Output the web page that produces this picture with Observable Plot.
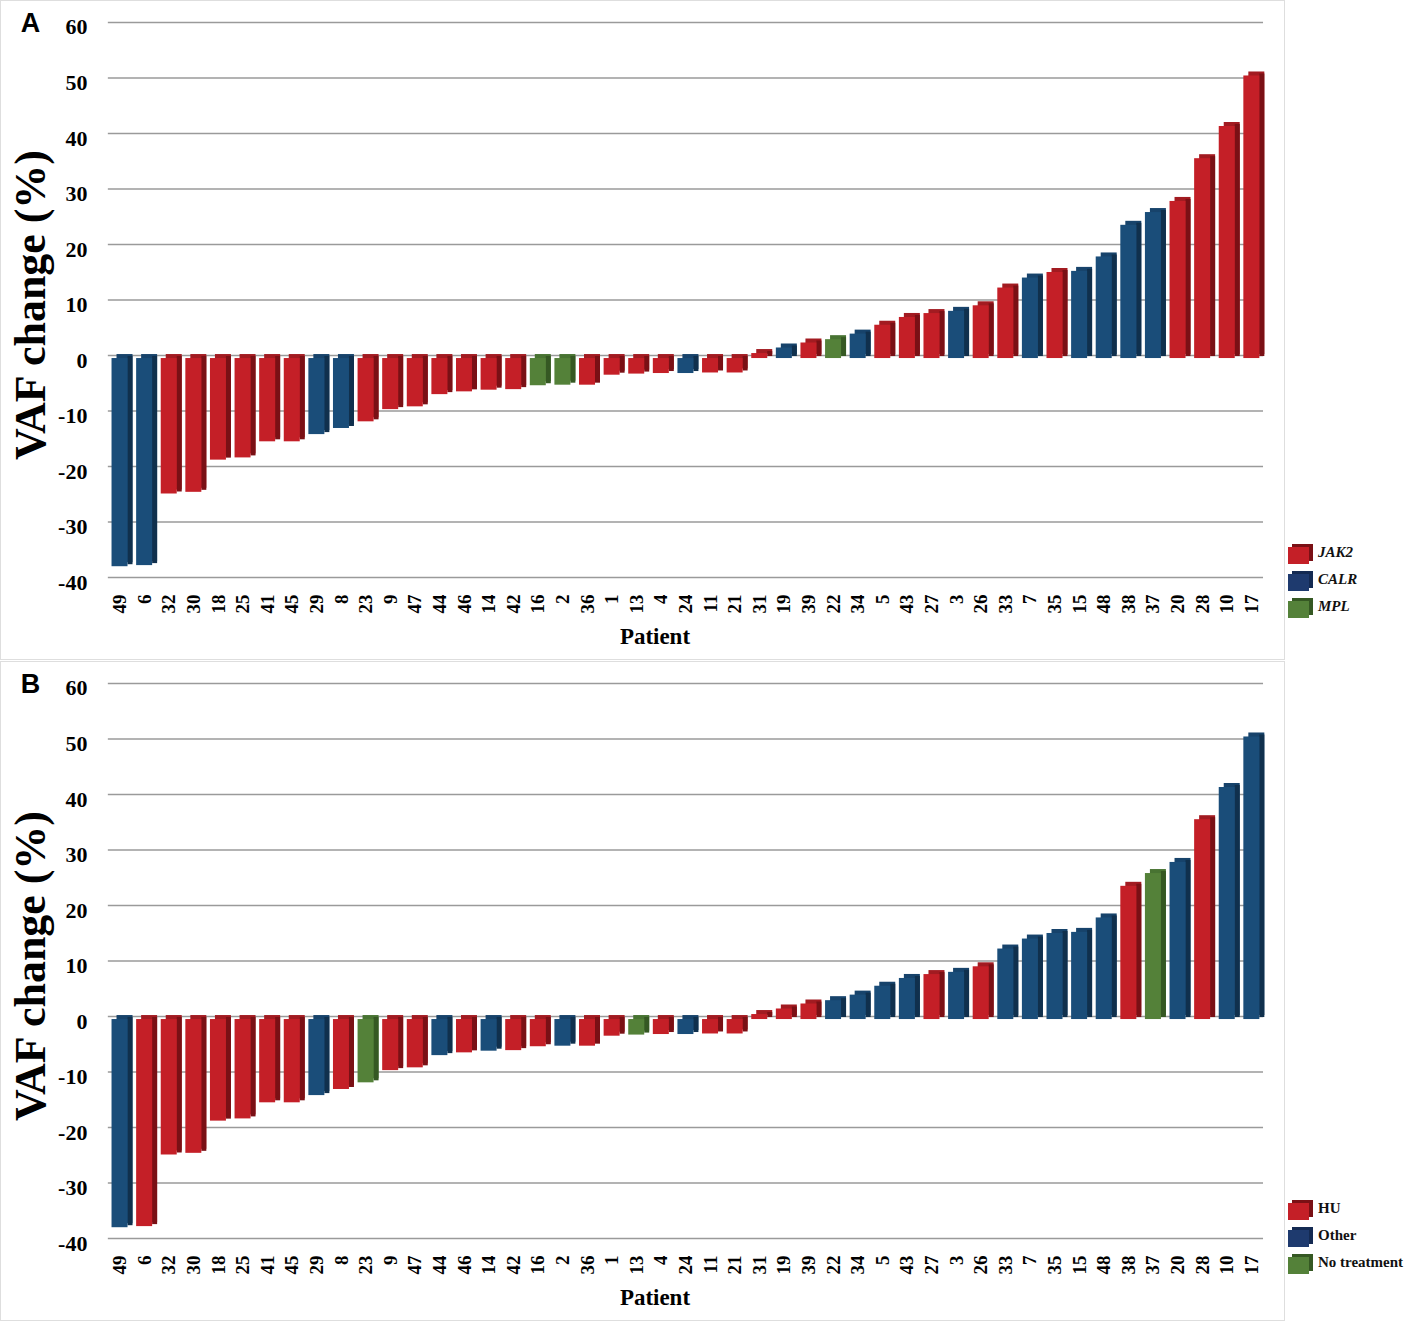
<!DOCTYPE html>
<html>
<head>
<meta charset="utf-8">
<script src="https://cdn.jsdelivr.net/npm/d3@7"></script>
<script src="https://cdn.jsdelivr.net/npm/@observablehq/plot@0.6"></script>
<style>
  html, body { margin: 0; padding: 0; background: #fff; }
  #wrap { position: relative; width: 1417px; height: 1323px; overflow: hidden; }
  .panel { position: absolute; left: 0; width: 1285px; border: 1px solid #dedede; box-sizing: border-box; }
  .panel svg { position: absolute; left: -1px; top: -1px; }
  .legend { position: absolute; left: 1287px; font-family: 'Liberation Serif', 'Times New Roman', serif; font-weight: bold; font-size: 15px; color: #111; }
  .legend .row { position: relative; height: 27px; }
  .legend .sw { position: absolute; left: 1px; top: 7px; width: 21px; height: 17px; }
  .legend .lab { position: absolute; left: 31px; top: 4px; white-space: nowrap; }
  .legend.italic .lab { font-style: italic; }
</style>
</head>
<body>
<div id="wrap">
  <div class="panel" id="pA" style="top:0;height:660px"></div>
  <div class="panel" id="pB" style="top:661px;height:660px"></div>
  <div class="legend italic" id="legA" style="top:540px"></div>
  <div class="legend" id="legB" style="top:1196px"></div>
</div>
<script>
// ---------------- data ----------------
const patients = ["49","6","32","30","18","25","41","45","29","8","23","9","47","44","46","14","42","16","2","36","1","13","4","24","11","21","31","19","39","22","34","5","43","27","3","26","33","7","35","15","48","38","37","20","28","10","17"];
const vafChange = [-37.5,-37.3,-24.4,-24.1,-18.3,-17.9,-15.0,-15.0,-13.7,-12.6,-11.4,-9.2,-8.7,-6.5,-6.0,-5.7,-5.6,-4.9,-4.8,-4.8,-3.0,-2.8,-2.7,-2.7,-2.6,-2.6,0.9,1.9,2.8,3.4,4.4,6.0,7.4,8.1,8.5,9.5,12.7,14.5,15.5,15.7,18.3,24.0,26.3,28.3,36.0,41.8,50.9];
const mutation = ["CALR","CALR","JAK2","JAK2","JAK2","JAK2","JAK2","JAK2","CALR","CALR","JAK2","JAK2","JAK2","JAK2","JAK2","JAK2","JAK2","MPL","MPL","JAK2","JAK2","JAK2","JAK2","CALR","JAK2","JAK2","JAK2","CALR","JAK2","MPL","CALR","JAK2","JAK2","JAK2","CALR","JAK2","JAK2","CALR","JAK2","CALR","CALR","CALR","CALR","JAK2","JAK2","JAK2","JAK2"];
const treatment = ["Other","HU","HU","HU","HU","HU","HU","HU","Other","HU","No treatment","HU","HU","Other","HU","Other","HU","HU","Other","HU","HU","No treatment","HU","Other","HU","HU","HU","HU","HU","Other","Other","Other","Other","HU","Other","HU","Other","Other","Other","Other","Other","HU","No treatment","Other","HU","Other","Other"];
const mutationKeys = ["JAK2","CALR","MPL"];
const treatmentKeys = ["HU","Other","No treatment"];
const yTicks = [-40,-30,-20,-10,0,10,20,30,40,50,60];

// ---------------- style ----------------
const palette = [
  {front:"#c41f27", top:"#a21b21", side:"#7a1015"},
  {front:"#1a4d79", top:"#17436b", side:"#10304d"},
  {front:"#548139", top:"#487332", side:"#355823"}
];
const legendPalette = [
  {front:"#c41f27", side:"#7a1015"},
  {front:"#1e3a6e", side:"#142a52"},
  {front:"#548139", side:"#355823"}
];
const W = 1285, H = 659;
const mL = 108, mR = 20, mT = 22, mB = 81;
const padInner = 0.35, padOuter = 0.15;
const step = (W - mL - mR) / (patients.length - padInner + 2 * padOuter);
const bw = step * (1 - padInner);
const depthX = 5;
const serif = "'Liberation Serif','Times New Roman',serif";

function panel(groups, keys, letter) {
  const data = patients.map((p, i) => ({patient: p, value: vafChange[i], key: groups[i]}));
  const idx = Object.fromEntries(keys.map((k, i) => [k, i]));
  const col = (part) => (d) => palette[idx[d.key]][part];
  return Plot.plot({
    width: W, height: H,
    marginLeft: mL, marginRight: mR, marginTop: mT, marginBottom: mB,
    style: {fontFamily: serif, fontWeight: "bold", background: "transparent", color: "#000", overflow: "visible"},
    x: {type: "band", domain: patients, paddingInner: padInner, paddingOuter: padOuter, align: 0.5},
    y: {domain: [-40, 60]},
    color: {type: "identity"},
    marks: [
      Plot.ruleY(yTicks, {stroke: "#9a9a9a", strokeWidth: 1.5}),
      Plot.barY(data, {x: "patient", y1: 0, y2: "value", fill: col("top"), dx: depthX, dy: -1}),
      Plot.barY(data, {x: "patient", y1: 0, y2: "value", fill: col("side"), dx: depthX, dy: 1, insetLeft: bw - depthX}),
      Plot.barY(data, {x: "patient", y1: 0, y2: "value", fill: col("front"), dy: 3}),
      Plot.axisY({ticks: yTicks, tickFormat: d => String(d), tickSize: 0, tickPadding: 21, dy: 5, fontSize: 22, label: null}),
      Plot.axisX({tickRotate: -90, tickSize: 0, tickPadding: 17, fontSize: 19, label: null}),
      Plot.text(["VAF change (%)"], {text: d => d, frameAnchor: "left", textAnchor: "middle", lineAnchor: "middle", rotate: -90, dx: -78, dy: 5, fontSize: 44}),
      Plot.text(["Patient"], {text: d => d, frameAnchor: "bottom", textAnchor: "middle", lineAnchor: "middle", dx: -31, dy: 59, fontSize: 23}),
      Plot.text([letter], {text: d => d, frameAnchor: "top-left", textAnchor: "middle", lineAnchor: "middle", dx: -78, dy: 1, fontSize: 27, fontFamily: "'Liberation Sans',Arial,sans-serif"})
    ]
  });
}

function legend(el, keys) {
  keys.forEach((k, i) => {
    const row = document.createElement("div");
    row.className = "row";
    const sw = document.createElement("div");
    sw.className = "sw";
    sw.style.background = legendPalette[i].front;
    sw.style.boxShadow = `4px -3px 0 0 ${legendPalette[i].side}`;
    const lab = document.createElement("div");
    lab.className = "lab";
    lab.textContent = k;
    row.appendChild(sw);
    row.appendChild(lab);
    el.appendChild(row);
  });
}

document.getElementById("pA").appendChild(panel(mutation, mutationKeys, "A"));
document.getElementById("pB").appendChild(panel(treatment, treatmentKeys, "B"));
legend(document.getElementById("legA"), mutationKeys);
legend(document.getElementById("legB"), treatmentKeys);
</script>
</body>
</html>
